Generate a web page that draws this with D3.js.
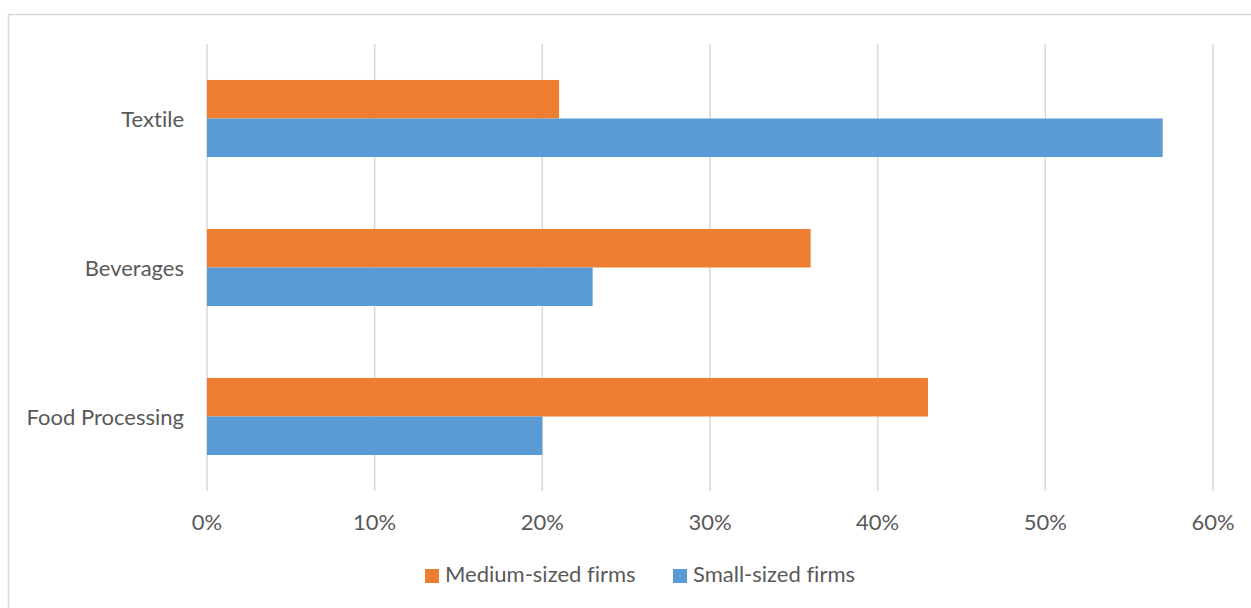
<!DOCTYPE html>
<html>
<head>
<meta charset="utf-8">
<script src="https://cdn.jsdelivr.net/npm/d3@7"></script>
<style>
  html, body { margin: 0; padding: 0; background: #fff; }
  svg { display: block; }
  text { font-family: Lato, "Open Sans", sans-serif; fill: #595959; font-variant-ligatures: none; }
</style>
</head>
<body>
<svg id="chart" width="1251" height="608"></svg>
<script>
// Share of firms by sector and firm size
const categories = ["Textile", "Beverages", "Food Processing"];
const seriesNames = ["Medium-sized firms", "Small-sized firms"];
const mediumValues = [0.21, 0.36, 0.43];
const smallValues = [0.57, 0.23, 0.20];
const tickValues = [0, 0.1, 0.2, 0.3, 0.4, 0.5, 0.6];
const colors = ["#ED7D31", "#5B9BD5"];

const seriesValues = [mediumValues, smallValues];
const rows = categories.map((c, i) => ({
  category: c,
  values: seriesNames.map((s, j) => ({ series: s, value: seriesValues[j][i], color: colors[j] }))
}));

const svg = d3.select("#chart");

// chart frame
svg.append("rect")
  .attr("x", 8.5).attr("y", 14.5)
  .attr("width", 1300).attr("height", 700)
  .attr("fill", "none").attr("stroke", "#d9d9d9").attr("stroke-width", 1.5);

const x = d3.scaleLinear().domain([0, 0.6]).range([207, 1213]);
const y = d3.scaleBand().domain(categories).range([44, 491])
  .paddingInner(0.483).paddingOuter(0.2415);
const ySub = d3.scaleBand().domain(seriesNames).range([0, y.bandwidth()]);

// vertical gridlines
svg.append("g")
  .selectAll("line")
  .data(tickValues)
  .join("line")
  .attr("x1", d => x(d)).attr("x2", d => x(d))
  .attr("y1", 44).attr("y2", 491)
  .attr("stroke", "#d9d9d9").attr("stroke-width", 1.5);

// bars
const groups = svg.append("g")
  .selectAll("g")
  .data(rows)
  .join("g")
  .attr("transform", d => `translate(0,${y(d.category)})`);

groups.selectAll("rect")
  .data(d => d.values)
  .join("rect")
  .attr("x", x(0))
  .attr("y", d => ySub(d.series))
  .attr("width", d => x(d.value) - x(0))
  .attr("height", ySub.bandwidth())
  .attr("fill", d => d.color);

// x axis tick labels
const fmt = d3.format(".0%");
svg.append("g")
  .selectAll("text")
  .data(tickValues)
  .join("text")
  .attr("x", d => x(d))
  .attr("y", 530)
  .attr("text-anchor", "middle")
  .attr("font-size", 22)
  .text(d => fmt(d));

// category labels
svg.append("g")
  .selectAll("text")
  .data(categories)
  .join("text")
  .attr("x", 184)
  .attr("y", d => y(d) + y.bandwidth() / 2 + 8)
  .attr("text-anchor", "end")
  .attr("font-size", 22)
  .text(d => d);

// legend
const legendX = [425, 673];
const legend = svg.append("g")
  .selectAll("g")
  .data(seriesNames)
  .join("g")
  .attr("transform", (d, i) => `translate(${legendX[i]},569)`);
legend.append("rect")
  .attr("width", 14).attr("height", 14)
  .attr("fill", (d, i) => colors[i]);
legend.append("text")
  .attr("x", 20).attr("y", 13)
  .attr("font-size", 22)
  .text(d => d);
</script>
</body>
</html>
